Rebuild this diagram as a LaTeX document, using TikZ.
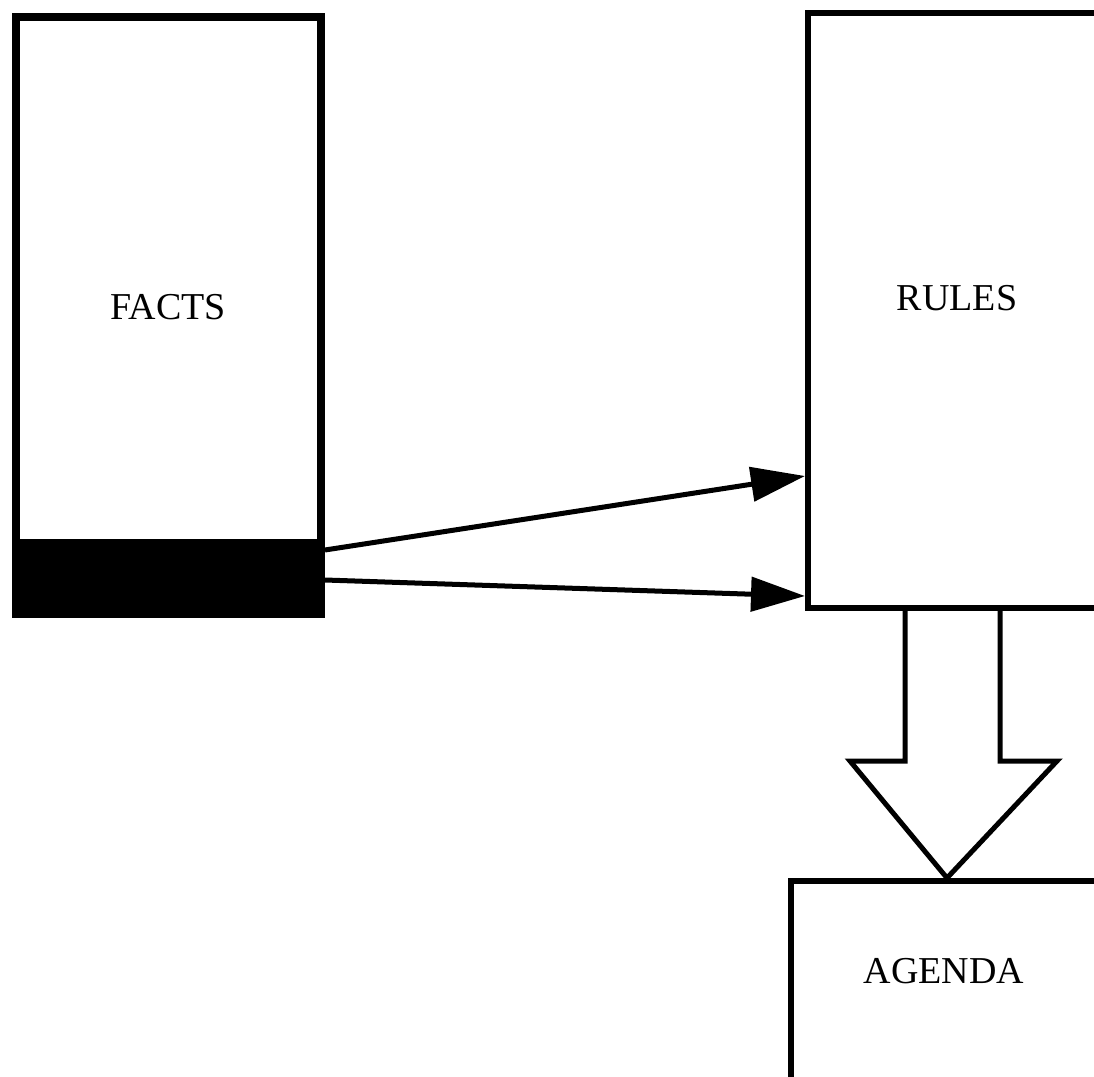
\documentclass[tikz,border=0pt]{standalone}
\usepackage{fontspec}
\setmainfont{Liberation Serif}
\usetikzlibrary{arrows.meta,calc}
\begin{document}
\begin{tikzpicture}[x=0.5pt,y=-0.5pt,
  box/.style={draw=black, rectangle, inner sep=0pt},
  lbl/.style={inner sep=0pt, font=\fontsize{19}{22}\selectfont},
  arr/.style={draw=black, line width=2.5pt, -{Triangle[length=27pt,width=17pt]}},
  blockarrow/.style={draw=black, line width=2.5pt, line join=miter}]
\useasboundingbox (0,0) rectangle (1094,1077);
\clip (0,0) rectangle (1094,1077);
% boxes
\node[box, line width=4pt, minimum width=152.5pt, minimum height=298.5pt] (facts) at (168.5,315.5) {};
\fill[black] (facts.south west) rectangle ($(facts.south east)+(0,-79)$);
\node[box, line width=3pt, minimum width=151pt, minimum height=297.5pt] (rules) at (959,310.5) {};
\node[box, line width=3pt, minimum width=159.5pt, minimum height=109.5pt] (agenda) at (950.5,990.5) {};
% labels
\node[lbl] (tfacts) at (168,307) {FACTS};
\node[lbl] (trules) at (957,298) {RULES};
\node[lbl] (tagenda) at (944,971) {AGENDA};
% connectors
\draw[arr] (facts.east |- 0,550) -- (rules.west |- 0,476);
\draw[arr] (facts.east |- 0,580) -- (rules.west |- 0,596);
% block arrow
\coordinate (sl) at (rules.south -| 905,0);
\coordinate (sr) at (rules.south -| 1000,0);
\coordinate (tip) at (agenda.north -| 947,0);
\draw[blockarrow] (sl) -- (905,761) -- (850,761) -- (tip) -- (1057,761) -- (1000,761) -- (sr);
\end{tikzpicture}
\end{document}
